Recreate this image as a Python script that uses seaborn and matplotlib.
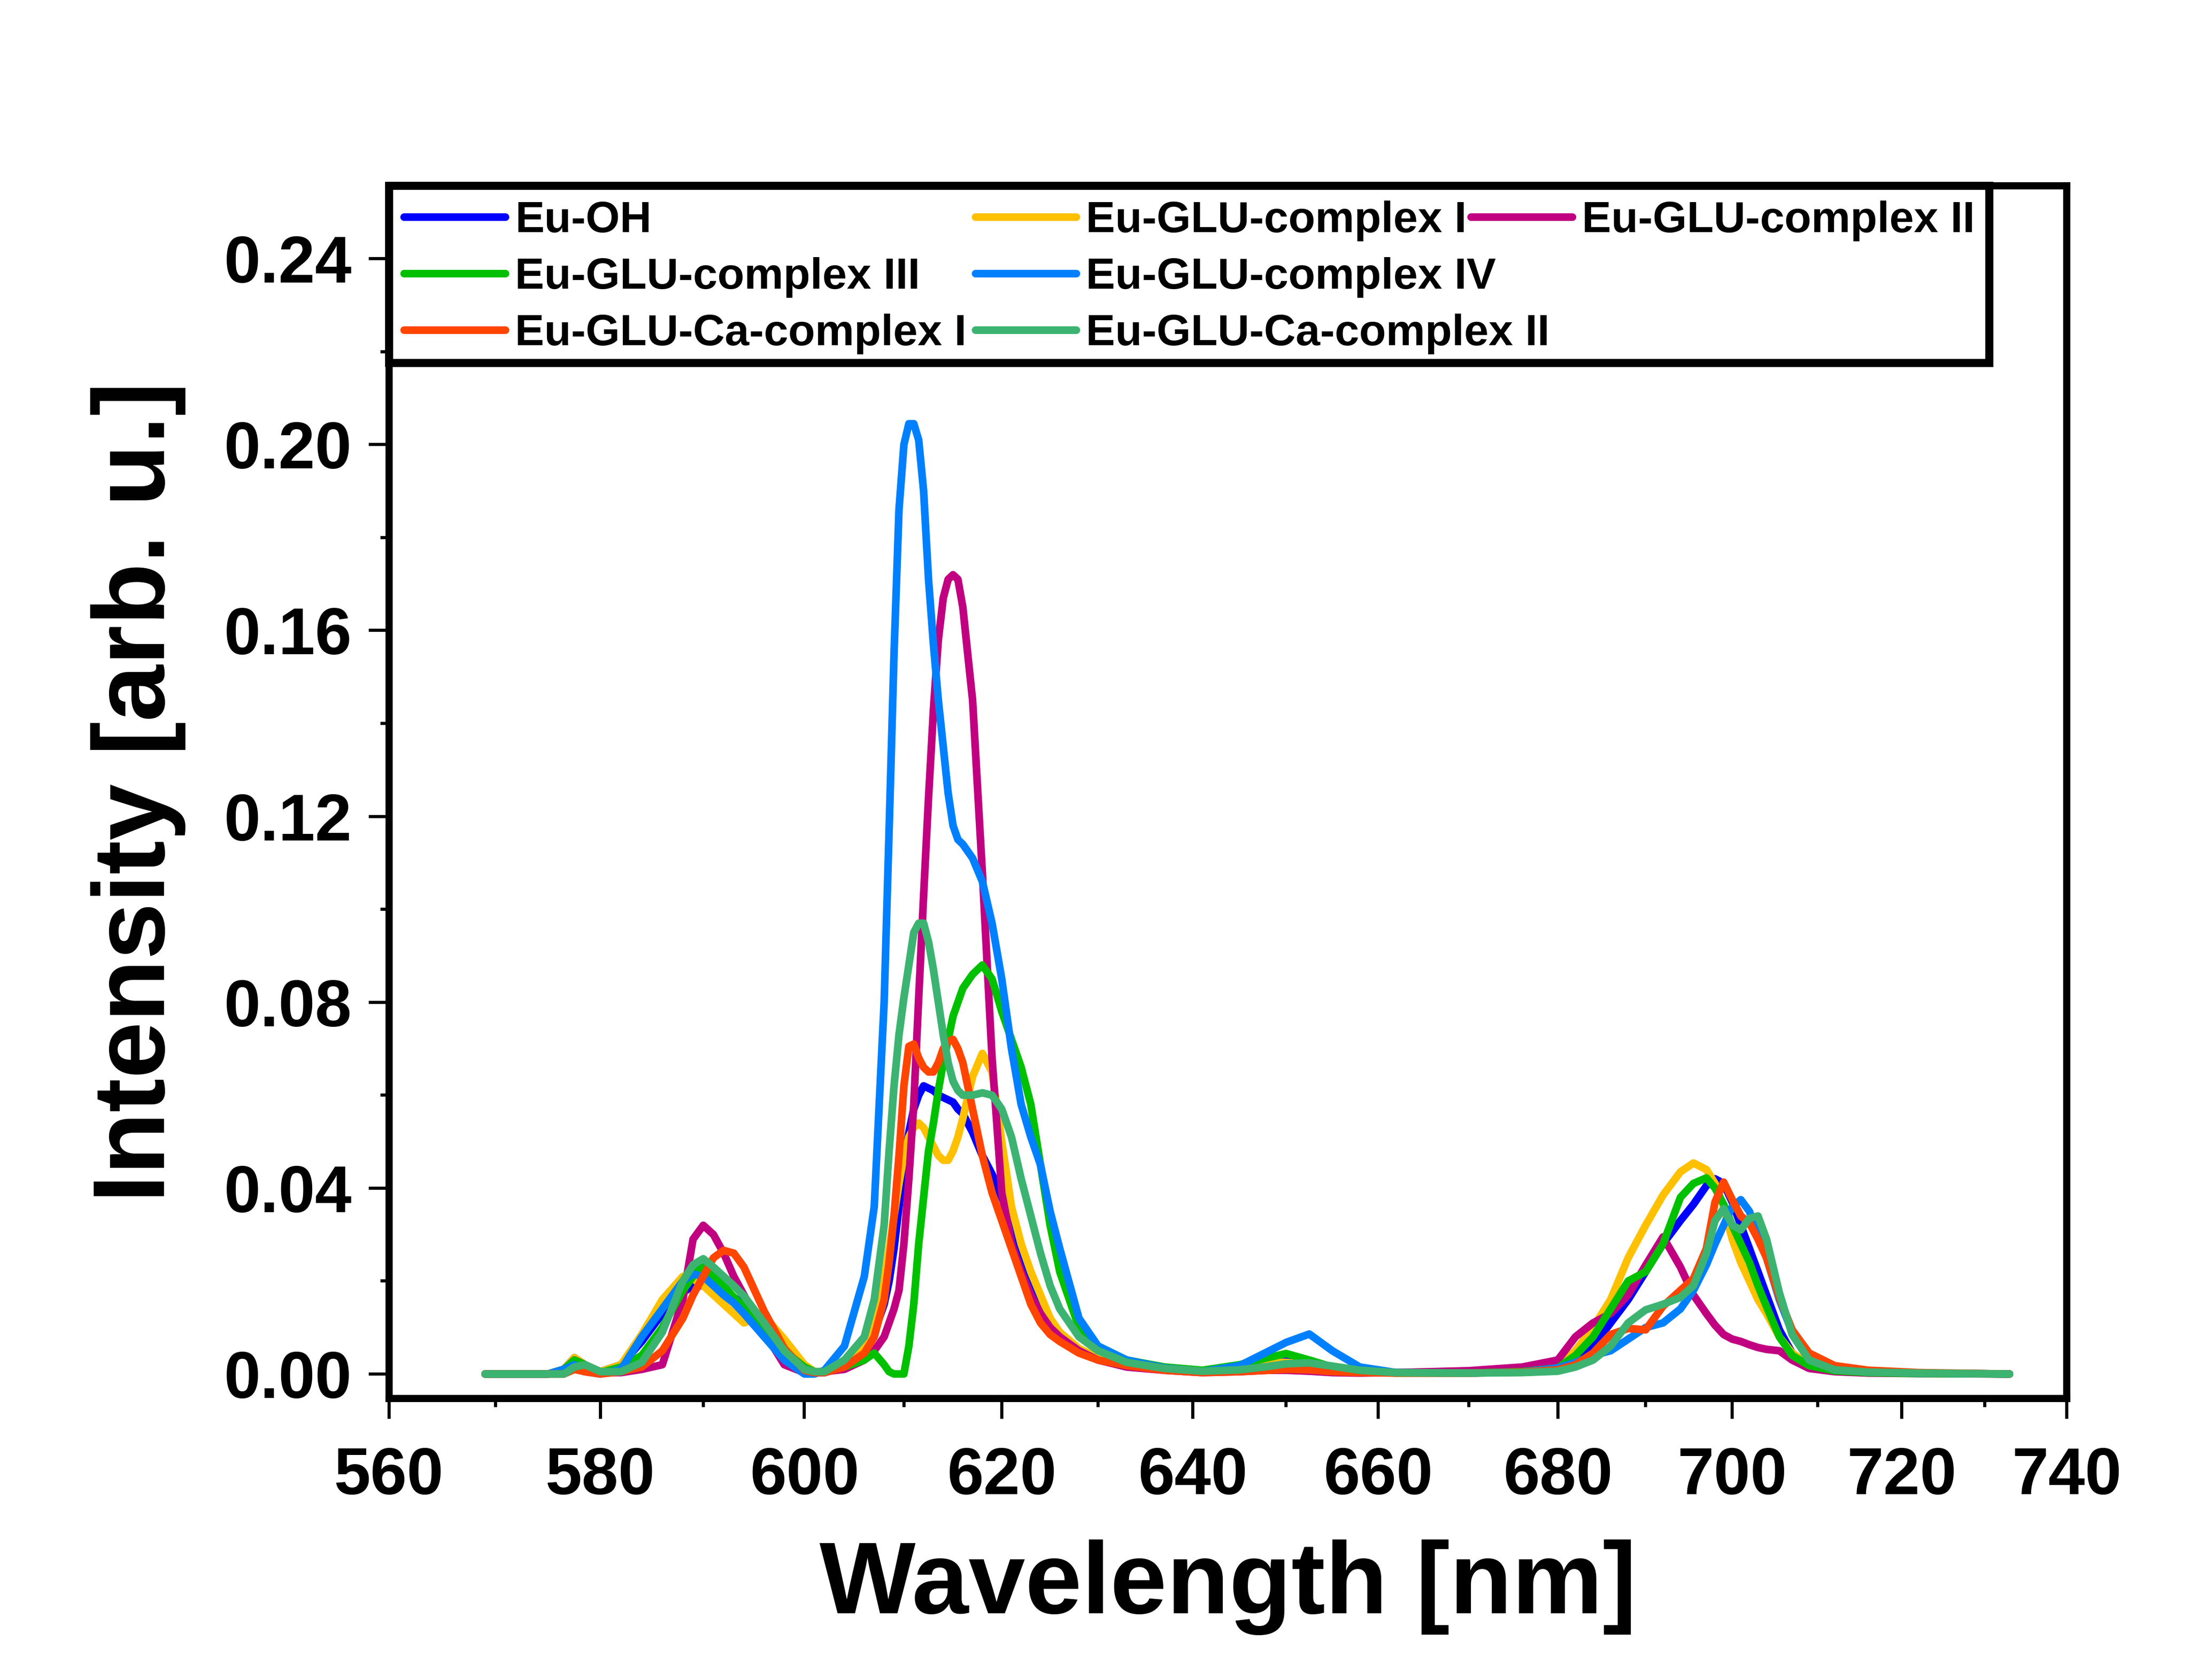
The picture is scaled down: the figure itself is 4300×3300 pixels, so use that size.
import seaborn as sns
import pandas as pd
import numpy as np
import matplotlib
matplotlib.use("Agg")
import matplotlib.pyplot as plt
from matplotlib.lines import Line2D
from matplotlib.patches import Rectangle
from matplotlib.ticker import FixedLocator, FuncFormatter, NullFormatter

sns.set_style("ticks")
plt.rcParams['font.family'] = ['Liberation Sans', 'DejaVu Sans']
plt.rcParams['font.weight'] = 'bold'
for key in ['text.color', 'axes.labelcolor', 'xtick.color', 'ytick.color', 'axes.edgecolor']:
    plt.rcParams[key] = 'black'

# wavelength grid [nm]
wavelength = [569, 575, 576.5, 577.5, 578.5, 580, 582, 584, 586, 588,
              589, 590, 591, 592, 593, 594, 596, 598, 600, 601,
              602, 604, 606, 607, 608, 608.5, 609, 609.5, 610, 610.5,
              611, 611.5, 612, 612.5, 613, 613.5, 614, 614.5, 615, 615.5,
              616, 617, 618, 619, 620, 621, 622, 623, 624, 625,
              626, 628, 630, 633, 637, 641, 645, 648, 650, 652.5,
              655, 658, 662, 670, 676, 680, 682, 684, 686, 688,
              690, 692, 694, 695.5, 697, 698, 699, 700, 701, 702,
              703, 704, 705.5, 707, 709, 712, 716, 722, 733]

eu_oh = [0, 0, 0.001, 0.0035, 0.002, 0.0005, 0.002, 0.007, 0.013, 0.0175,
         0.019, 0.019, 0.018, 0.0175, 0.0165, 0.015, 0.010, 0.0045, 0.001, 0.0003,
         0.0003, 0.0015, 0.005, 0.009, 0.015, 0.020, 0.027, 0.036, 0.045, 0.052,
         0.057, 0.060, 0.062, 0.0615, 0.061, 0.060, 0.0595, 0.059, 0.0585, 0.057,
         0.056, 0.052, 0.047, 0.043, 0.038, 0.033, 0.026, 0.020, 0.015, 0.011,
         0.0085, 0.005, 0.0035, 0.002, 0.001, 0.0005, 0.0015, 0.0025, 0.003, 0.0025,
         0.0015, 0.0008, 0.0003, 0.0002, 0.0005, 0.0015, 0.003, 0.006, 0.011, 0.016,
         0.022, 0.028, 0.033, 0.0365, 0.0405, 0.042, 0.041, 0.037, 0.032, 0.027,
         0.022, 0.017, 0.0095, 0.0045, 0.0018, 0.0008, 0.0004, 0.0002, 0.0]

glu_1 = [0, 0, 0.001, 0.0035, 0.002, 0.0005, 0.002, 0.0085, 0.016, 0.021,
         0.0205, 0.019, 0.017, 0.015, 0.013, 0.011, 0.0125, 0.0075, 0.002, 0.0005,
         0.0005, 0.002, 0.006, 0.010, 0.020, 0.027, 0.034, 0.041, 0.047, 0.051,
         0.053, 0.054, 0.053, 0.051, 0.049, 0.047, 0.046, 0.046, 0.048, 0.051,
         0.055, 0.064, 0.069, 0.065, 0.050, 0.036, 0.028, 0.022, 0.017, 0.012,
         0.009, 0.0055, 0.0035, 0.002, 0.001, 0.0005, 0.0015, 0.0025, 0.0025, 0.002,
         0.0012, 0.0006, 0.0003, 0.0002, 0.0005, 0.0017, 0.005, 0.010, 0.016, 0.025,
         0.032, 0.0385, 0.0435, 0.0454, 0.044, 0.041, 0.036, 0.029, 0.024, 0.020,
         0.016, 0.013, 0.008, 0.0045, 0.002, 0.0008, 0.0004, 0.0002, 0.0]

glu_2 = [0, 0, 0.001, 0.003, 0.002, 0.0003, 0.0003, 0.001, 0.002, 0.016,
         0.029, 0.032, 0.030, 0.026, 0.021, 0.017, 0.009, 0.002, 0.0003, 0.0002,
         0.0005, 0.001, 0.003, 0.005, 0.008, 0.011, 0.014, 0.018, 0.028, 0.042,
         0.058, 0.081, 0.103, 0.124, 0.143, 0.158, 0.167, 0.171, 0.172, 0.171,
         0.165, 0.145, 0.108, 0.068, 0.039, 0.028, 0.022, 0.017, 0.013, 0.010,
         0.008, 0.005, 0.003, 0.0015, 0.0008, 0.0003, 0.0005, 0.0008, 0.0008, 0.0006,
         0.0003, 0.0002, 0.0003, 0.0007, 0.0015, 0.003, 0.008, 0.011, 0.013, 0.017,
         0.0234, 0.0295, 0.023, 0.017, 0.013, 0.0105, 0.0085, 0.0075, 0.007, 0.0063,
         0.0057, 0.0053, 0.005, 0.003, 0.0012, 0.0005, 0.0002, 0.0001, 0.0]

glu_3 = [0, 0, 0.001, 0.003, 0.002, 0.0003, 0.0015, 0.004, 0.010, 0.018,
         0.021, 0.0234, 0.021, 0.019, 0.0165, 0.0145, 0.010, 0.005, 0.0015, 0.0005,
         0.0005, 0.0015, 0.003, 0.0045, 0.002, 0.0005, 0.0, 0.0, 0.0, 0.006,
         0.015, 0.028, 0.038, 0.048, 0.054, 0.061, 0.067, 0.072, 0.077, 0.080,
         0.083, 0.086, 0.088, 0.085, 0.078, 0.072, 0.066, 0.058, 0.045, 0.032,
         0.022, 0.010, 0.006, 0.003, 0.0015, 0.0008, 0.002, 0.0035, 0.0044, 0.003,
         0.0015, 0.0006, 0.0002, 0.0002, 0.0005, 0.0013, 0.004, 0.008, 0.014, 0.020,
         0.022, 0.028, 0.038, 0.041, 0.0422, 0.040, 0.0365, 0.032, 0.028, 0.024,
         0.019, 0.0145, 0.008, 0.004, 0.0018, 0.0007, 0.0003, 0.0001, 0.0]

glu_4 = [0, 0, 0.001, 0.002, 0.0005, 0.0, 0.001, 0.008, 0.014, 0.020,
         0.0215, 0.021, 0.019, 0.017, 0.0153, 0.013, 0.008, 0.003, 0.0, 0.0,
         0.0008, 0.006, 0.021, 0.036, 0.080, 0.117, 0.155, 0.186, 0.200, 0.2045,
         0.2045, 0.201, 0.190, 0.171, 0.157, 0.145, 0.135, 0.125, 0.118, 0.115,
         0.114, 0.111, 0.106, 0.097, 0.085, 0.070, 0.058, 0.051, 0.045, 0.035,
         0.027, 0.012, 0.006, 0.003, 0.0013, 0.0005, 0.0018, 0.0048, 0.0068, 0.0086,
         0.005, 0.0015, 0.0003, 0.0002, 0.0004, 0.0013, 0.0025, 0.004, 0.005, 0.0075,
         0.010, 0.011, 0.014, 0.018, 0.0235, 0.028, 0.032, 0.036, 0.0375, 0.035,
         0.030, 0.025, 0.016, 0.009, 0.003, 0.0012, 0.0005, 0.0002, 0.0]

glu_ca_1 = [0, 0, 0.0, 0.001, 0.0005, 0.0, 0.0005, 0.0015, 0.005, 0.012,
            0.017, 0.021, 0.025, 0.0266, 0.026, 0.023, 0.0135, 0.0055, 0.0008, 0.0003,
            0.0003, 0.0015, 0.0045, 0.008, 0.016, 0.024, 0.034, 0.047, 0.062, 0.0705,
            0.071, 0.068, 0.066, 0.065, 0.065, 0.067, 0.070, 0.0715, 0.072, 0.070,
            0.067, 0.057, 0.047, 0.039, 0.033, 0.027, 0.021, 0.015, 0.011, 0.0085,
            0.007, 0.0045, 0.003, 0.0018, 0.0008, 0.0003, 0.0005, 0.0008, 0.001, 0.0009,
            0.0005, 0.0003, 0.0002, 0.0002, 0.0004, 0.0009, 0.002, 0.0045, 0.0085, 0.0098,
            0.0095, 0.0146, 0.018, 0.0205, 0.027, 0.037, 0.0413, 0.0375, 0.034, 0.0325,
            0.029, 0.025, 0.0165, 0.0095, 0.0045, 0.0018, 0.0008, 0.0003, 0.0]

glu_ca_2 = [0, 0, 0.0, 0.0015, 0.002, 0.0005, 0.0005, 0.0025, 0.009, 0.020,
            0.0235, 0.0248, 0.023, 0.021, 0.019, 0.0168, 0.011, 0.005, 0.001, 0.0005,
            0.0005, 0.003, 0.008, 0.016, 0.032, 0.048, 0.062, 0.073, 0.081, 0.088,
            0.095, 0.097, 0.097, 0.093, 0.087, 0.080, 0.073, 0.067, 0.063, 0.061,
            0.060, 0.060, 0.0605, 0.060, 0.057, 0.051, 0.042, 0.034, 0.026, 0.019,
            0.014, 0.008, 0.005, 0.0025, 0.0012, 0.0006, 0.0009, 0.0016, 0.0022, 0.0024,
            0.0017, 0.0008, 0.0003, 0.0002, 0.0003, 0.0006, 0.0015, 0.003, 0.006, 0.011,
            0.0138, 0.015, 0.0165, 0.019, 0.026, 0.033, 0.0356, 0.032, 0.031, 0.0335,
            0.034, 0.029, 0.0175, 0.0085, 0.003, 0.0009, 0.0004, 0.0002, 0.0]

samples = ["Eu-OH", "Eu-GLU-complex I", "Eu-GLU-complex II", "Eu-GLU-complex III",
           "Eu-GLU-complex IV", "Eu-GLU-Ca-complex I", "Eu-GLU-Ca-complex II"]
colors = ["#0000FF", "#FFC000", "#C00080", "#00C000", "#0080FF", "#FF4500", "#3CB371"]
series = [eu_oh, glu_1, glu_2, glu_3, glu_4, glu_ca_1, glu_ca_2]

x_ticks = list(range(560, 741, 20))
y_ticks = [0.00, 0.04, 0.08, 0.12, 0.16, 0.20, 0.24]

df = pd.concat([pd.DataFrame({"wavelength": wavelength, "intensity": s, "sample": name})
                for name, s in zip(samples, series)], ignore_index=True)
palette = dict(zip(samples, colors))

fig = plt.figure(figsize=(4300 / 300, 3300 / 300), dpi=300)
ax = fig.add_axes([0.1777, 0.1676, 0.7660, 0.7218])

sns.lineplot(data=df, x="wavelength", y="intensity", hue="sample", hue_order=samples,
             palette=palette, estimator=None, linewidth=3.6, legend=False, ax=ax)

ax.set_xscale("log")
ax.set_xlim(560, 740)
ax.set_ylim(-0.00526, 0.2557)
ax.xaxis.set_major_locator(FixedLocator(x_ticks))
ax.xaxis.set_major_formatter(FuncFormatter(lambda v, p: "%d" % round(v)))
ax.xaxis.set_minor_locator(FixedLocator(list(range(570, 740, 20))))
ax.xaxis.set_minor_formatter(NullFormatter())
ax.yaxis.set_major_locator(FixedLocator(y_ticks))
ax.yaxis.set_major_formatter(FuncFormatter(lambda v, p: "%.2f" % v))
ax.yaxis.set_minor_locator(FixedLocator([0.02, 0.06, 0.10, 0.14, 0.18, 0.22]))

for sp in ax.spines.values():
    sp.set_linewidth(3.4)
    sp.set_color("black")
ax.tick_params(which="major", direction="out", length=9.5, width=1.5, labelsize=31)
ax.tick_params(axis="x", which="major", pad=13)
ax.tick_params(axis="y", which="major", pad=8)
ax.tick_params(which="minor", direction="out", length=4, width=1.5)
for lab in ax.get_xticklabels() + ax.get_yticklabels():
    lab.set_fontweight("bold")

ax.set_xlabel("Wavelength [nm]", fontsize=48, fontweight="bold", labelpad=15)
ax.set_ylabel("Intensity [arb. u.]", fontsize=48, fontweight="bold", labelpad=18)

# legend box (Origin style: third column overlaps the second one's width)
ax.add_patch(Rectangle((0, 0.854), 0.954, 0.146, transform=ax.transAxes,
                       facecolor="white", edgecolor="black", linewidth=3.8,
                       clip_on=False, zorder=4.5))

handles = {name: Line2D([], [], color=c, linewidth=3.6) for name, c in zip(samples, colors)}
leg_kw = dict(loc="upper left", borderaxespad=0, frameon=False,
              prop={"size": 20.7, "weight": "bold"}, handlelength=2.3,
              handletextpad=0.22, labelspacing=0.36, borderpad=0.34)

cols_12 = ["Eu-OH", "Eu-GLU-complex III", "Eu-GLU-Ca-complex I",
           "Eu-GLU-complex I", "Eu-GLU-complex IV", "Eu-GLU-Ca-complex II"]
leg1 = ax.legend([handles[n] for n in cols_12], cols_12, ncol=2, columnspacing=0.2,
                 bbox_to_anchor=(0, 1), **leg_kw)
ax.add_artist(leg1)
leg2 = ax.legend([handles["Eu-GLU-complex II"]], ["Eu-GLU-complex II"],
                 bbox_to_anchor=(0.636, 1), **leg_kw)

fig.savefig("out.png", dpi=300)
